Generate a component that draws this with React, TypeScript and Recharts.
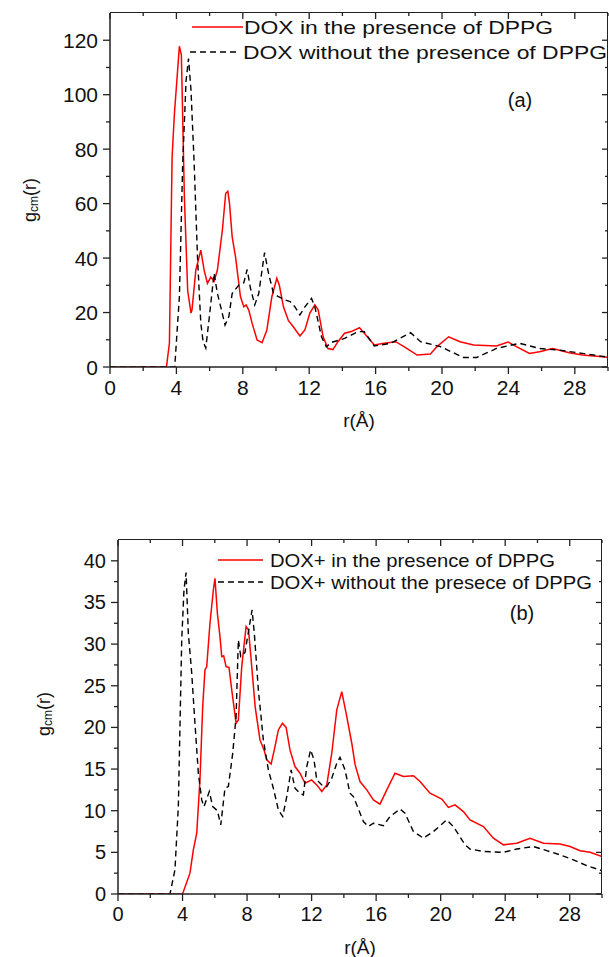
import React from "react"
import { Legend, Line, LineChart, XAxis, YAxis } from "recharts"

// panel (a): DOX
const aRedR = [0, 3.4, 3.58, 3.74, 3.88, 4.18, 4.3, 4.48, 4.68, 4.88, 4.94, 5.17, 5.47, 5.67, 5.87, 6.07, 6.27, 6.47, 6.77, 6.97, 7.1, 7.2, 7.36, 7.56, 7.86, 8.06, 8.2, 8.36, 8.56, 8.86, 9.16, 9.45, 9.75, 10.05, 10.2, 10.45, 10.75, 11.04, 11.44, 11.74, 12.04, 12.34, 12.54, 12.84, 13.13, 13.43, 13.73, 14.13, 14.53, 15.03, 15.32, 15.92, 16.52, 17.21, 17.71, 18.5, 19.3, 19.7, 20.4, 21.09, 21.9, 23.28, 23.98, 24.48, 25.27, 25.87, 26.67, 27.66, 28.46, 30]
const aRedG = [0, 0, 8.8, 77, 93, 117.8, 114.5, 62.5, 28, 19.8, 21, 35.6, 42.9, 35.6, 30.7, 33, 31.5, 35.6, 50.3, 63.8, 64.5, 60, 47.8, 40.5, 25.8, 22.1, 22.8, 20.9, 16.1, 9.9, 8.9, 13.6, 25.8, 32.6, 30, 22.1, 17, 14.8, 11.4, 13.6, 19.8, 22.8, 21, 11.1, 6.8, 6.4, 9.3, 12.4, 13, 14.4, 12.4, 8.1, 8.7, 9.3, 7.5, 4.4, 4.8, 7.5, 11.1, 9.3, 8.1, 7.7, 9.2, 7.5, 5.0, 5.6, 6.8, 5.2, 4.4, 3.6]
const aBlackR = [0, 3.9, 4.18, 4.38, 4.58, 4.73, 4.88, 5.07, 5.27, 5.47, 5.61, 5.77, 6.01, 6.27, 6.47, 6.67, 6.93, 7.16, 7.36, 7.76, 8.06, 8.26, 8.46, 8.72, 8.96, 9.31, 9.55, 9.85, 10.15, 10.55, 10.85, 11.14, 11.44, 11.74, 12.14, 12.34, 12.74, 13.03, 13.33, 14.13, 14.93, 15.32, 15.92, 16.91, 18.11, 18.71, 19.9, 21.29, 22.09, 23.28, 24.08, 24.68, 25.87, 27.06, 28.46, 30]
const aBlackG = [0, 0, 25.8, 74.8, 105, 113.3, 101.6, 74.8, 40.5, 16.1, 9.3, 7.0, 19.8, 34.4, 27, 22.1, 15.4, 18.5, 27, 30.1, 30.9, 35.8, 29, 22.8, 27, 42, 34.4, 27, 25.8, 24.6, 24, 22.1, 19.1, 22.1, 25.2, 22.1, 11.1, 7.4, 9.0, 10.5, 13, 13, 7.7, 8.7, 12.6, 9.3, 7.5, 3.5, 3.5, 6.8, 7.9, 8.7, 6.8, 6.2, 5.0, 3.6]

// panel (b): DOX+
const bRedR = [0, 4.0, 4.46, 4.67, 4.88, 5.08, 5.25, 5.39, 5.5, 5.7, 5.91, 6.01, 6.16, 6.32, 6.43, 6.55, 6.7, 6.88, 7.05, 7.32, 7.46, 7.67, 7.94, 8.09, 8.29, 8.5, 8.8, 9.05, 9.22, 9.49, 9.73, 9.94, 10.19, 10.42, 10.66, 10.97, 11.28, 11.59, 12.0, 12.32, 12.63, 12.94, 13.25, 13.56, 13.87, 14.18, 14.49, 14.7, 15.0, 15.42, 15.83, 16.24, 16.66, 17.17, 17.69, 18.31, 18.72, 19.34, 20.07, 20.48, 20.89, 21.41, 21.82, 22.65, 23.27, 23.89, 24.72, 25.54, 26.37, 27.4, 28.02, 28.64, 29.26, 30]
const bRedG = [0, 0, 2.5, 5.3, 7.3, 13.7, 22.5, 26.9, 27.3, 32.5, 36.5, 37.9, 33.7, 30.9, 28.5, 28.6, 27.3, 27.2, 24.5, 20.5, 20.9, 27.3, 32.1, 31.7, 27.3, 22.5, 18.5, 17.3, 16.1, 15.6, 17.7, 19.7, 20.5, 20.0, 17.3, 15.3, 14.5, 13.3, 13.7, 13.1, 12.3, 13.1, 16.9, 22.1, 24.3, 21.3, 18.1, 15.5, 13.5, 12.5, 11.3, 10.8, 12.5, 14.5, 14.1, 14.2, 13.5, 12.1, 11.4, 10.4, 10.7, 9.9, 8.9, 8.1, 6.7, 5.9, 6.1, 6.7, 6.1, 6.0, 5.7, 5.2, 5.0, 4.5]
const bBlackR = [0, 3.22, 3.53, 3.74, 3.95, 4.09, 4.22, 4.36, 4.57, 4.77, 4.98, 5.19, 5.33, 5.66, 5.87, 6.16, 6.37, 6.63, 6.84, 7.11, 7.32, 7.46, 7.61, 7.87, 8.14, 8.31, 8.45, 8.7, 9.01, 9.32, 9.63, 9.94, 10.21, 10.46, 10.73, 10.97, 11.28, 11.49, 11.7, 11.94, 12.15, 12.32, 12.63, 12.94, 13.25, 13.56, 13.76, 14.07, 14.38, 14.59, 15.21, 15.52, 15.83, 16.45, 16.86, 17.48, 17.79, 18.31, 18.93, 19.55, 20.38, 20.79, 21.51, 21.82, 22.65, 23.89, 24.72, 25.75, 26.58, 27.4, 28.23, 29.06, 30]
const bBlackG = [0, 0, 2.9, 10.5, 30.5, 36.5, 38.6, 31.3, 26.5, 20.5, 14.5, 11.3, 10.5, 12.3, 10.5, 10.0, 8.3, 12.7, 12.9, 16.9, 21.3, 30.5, 28.5, 29.0, 32.1, 34.1, 31.3, 24.5, 18.5, 14.9, 12.7, 10.1, 9.3, 11.7, 14.9, 12.7, 12.1, 11.9, 15.3, 17.3, 16.1, 13.7, 13.1, 12.9, 13.9, 15.7, 16.4, 14.9, 12.1, 11.7, 8.7, 8.1, 8.5, 8.2, 9.3, 10.2, 9.7, 7.5, 6.7, 7.5, 8.9, 8.1, 5.9, 5.4, 5.1, 5.0, 5.4, 5.7, 5.2, 4.7, 4.1, 3.4, 2.8]

const xTicks = [0, 2, 4, 6, 8, 10, 12, 14, 16, 18, 20, 22, 24, 26, 28, 30]
const aYTicks = [0, 10, 20, 30, 40, 50, 60, 70, 80, 90, 100, 110, 120]
const bYTicks = [0, 2.5, 5, 7.5, 10, 12.5, 15, 17.5, 20, 22.5, 25, 27.5, 30, 32.5, 35, 37.5, 40]

const zip = (r: number[], g: number[]) => r.map((v, i) => ({ r: v, g: g[i] }))

const FONT = "'Liberation Sans', Arial, sans-serif"
const AXIS = "#222"
const X_MAX = 30
const Y_AXIS_W = 60
const X_AXIS_H = 30

const bottomTick = (step: number, fs: number) => (p: any) => {
  const v = p.payload.value
  const major = v % step === 0
  return (
    <g>
      <line x1={p.x} y1={p.y} x2={p.x} y2={p.y + (major ? 7 : 4)} stroke={AXIS} strokeWidth={1.3} />
      {major && (
        <text x={p.x} y={p.y + 20} textAnchor="middle" dominantBaseline="central" fontSize={fs} fontFamily={FONT} fill="#111">
          {v}
        </text>
      )}
    </g>
  )
}

const leftTick = (step: number, fs: number) => (p: any) => {
  const v = p.payload.value
  const major = v % step === 0
  return (
    <g>
      <line x1={p.x} y1={p.y} x2={p.x - (major ? 7 : 4)} y2={p.y} stroke={AXIS} strokeWidth={1.3} />
      {major && (
        <text x={p.x - 12} y={p.y} textAnchor="end" dominantBaseline="central" fontSize={fs} fontFamily={FONT} fill="#111">
          {v}
        </text>
      )}
    </g>
  )
}

const YTitle = ({ cx, cy }: any) => (
  <text x={cx} y={cy} transform={`rotate(-90 ${cx} ${cy})`} textAnchor="middle" dominantBaseline="central" fontSize={18} fontFamily={FONT} fill="#111">
    g<tspan fontSize={12} dy={4}>cm</tspan>
    <tspan fontSize={18} dy={-4}>(r)</tspan>
  </text>
)

const XTitle = ({ viewBox, dy }: any) => (
  <text x={viewBox.x + viewBox.width / 2} y={viewBox.y + dy} textAnchor="middle" dominantBaseline="central" fontSize={19} fontFamily={FONT} fill="#111">
    r(Å)
  </text>
)

type Row = { y: number; x1: number; x2: number; tx: number; len: number }

const legendBox = (rows: Row[], tag: string, tagX: number, tagY: number, fs: number) => (props: any) => {
  const items = props.payload || []
  return (
    <svg width={609} height={130} style={{ overflow: "visible" }}>
      {items.map((item: any, i: number) => {
        const row = rows[i]
        return (
          <g key={item.value}>
            <line x1={row.x1} y1={row.y} x2={row.x2} y2={row.y} stroke={item.color} strokeWidth={1.5} strokeDasharray={item.payload?.strokeDasharray} />
            <text x={row.tx} y={row.y} dominantBaseline="central" fontSize={fs} fontFamily={FONT} fill="#111" textLength={row.len} lengthAdjust="spacingAndGlyphs">
              {item.value}
            </text>
          </g>
        )
      })}
      <text x={tagX} y={tagY} textAnchor="middle" dominantBaseline="central" fontSize={20} fontFamily={FONT} fill="#111">
        {tag}
      </text>
    </svg>
  )
}

// top and right frame with inward ticks, laid over the plot box
function Frame(props: { left: number; top: number; w: number; h: number; yMax: number; yTicks: number[]; yStep: number }) {
  const { left, top, w, h, yMax, yTicks, yStep } = props
  return (
    <>
      <div
        style={{
          position: "absolute",
          left: left,
          top: top - 1,
          width: w,
          height: h,
          borderTop: `1.5px solid ${AXIS}`,
          borderRight: `1.5px solid ${AXIS}`,
          boxSizing: "border-box",
          pointerEvents: "none",
          zIndex: 5,
        }}
      />
      <svg width={609} height={h + top + 10} style={{ position: "absolute", left: 0, top: 0, pointerEvents: "none", overflow: "visible", zIndex: 6 }}>
        {xTicks.map((t) => {
          const x = left + (t / X_MAX) * w
          return <line key={"t" + t} x1={x} y1={top} x2={x} y2={top + (t % 4 === 0 ? 6 : 3)} stroke={AXIS} strokeWidth={1.3} />
        })}
        {yTicks.map((t) => {
          const y = top + h - (t / yMax) * h
          return <line key={"r" + t} x1={left + w} y1={y} x2={left + w - (t % yStep === 0 ? 6 : 3)} y2={y} stroke={AXIS} strokeWidth={1.3} />
        })}
      </svg>
    </>
  )
}

function Panel(props: {
  width: number
  height: number
  margin: any
  yMax: number
  yTicks: number[]
  yStep: number
  red: any[]
  black: any[]
  redName: string
  blackName: string
  fs: number
  yTitle: { cx: number; cy: number }
  legend: (p: any) => React.ReactNode
}) {
  const p = props
  const plotW = p.width - p.margin.left - p.margin.right - Y_AXIS_W
  const plotH = p.height - p.margin.top - p.margin.bottom - X_AXIS_H
  return (
    <div style={{ position: "relative", width: p.width, height: p.height }}>
      <LineChart width={p.width} height={p.height} margin={p.margin}>
        <XAxis
          dataKey="r"
          type="number"
          domain={[0, X_MAX]}
          ticks={xTicks}
          interval={0}
          allowDataOverflow
          height={X_AXIS_H}
          tickSize={0}
          tickMargin={0}
          tickLine={false}
          tick={bottomTick(4, p.fs)}
          axisLine={{ stroke: AXIS, strokeWidth: 1.5 }}
          label={<XTitle dy={53} />}
        />
        <YAxis
          type="number"
          domain={[0, p.yMax]}
          ticks={p.yTicks}
          interval={0}
          allowDataOverflow
          width={Y_AXIS_W}
          tickSize={0}
          tickMargin={0}
          tickLine={false}
          tick={leftTick(p.yStep, p.fs)}
          axisLine={{ stroke: AXIS, strokeWidth: 1.5 }}
          label={<YTitle cx={p.yTitle.cx} cy={p.yTitle.cy} />}
        />
        <Legend
          layout="vertical"
          align="center"
          verticalAlign="middle"
          content={p.legend}
          wrapperStyle={{ left: 0, top: 0, width: 609, height: 130, pointerEvents: "none" }}
        />
        <Line data={p.red} dataKey="g" name={p.redName} type="linear" stroke="#ff0000" strokeWidth={1.5} dot={false} isAnimationActive={false} />
        <Line data={p.black} dataKey="g" name={p.blackName} type="linear" stroke="#000000" strokeWidth={1.4} strokeDasharray="6 4" dot={false} isAnimationActive={false} />
      </LineChart>
      <Frame left={p.margin.left + Y_AXIS_W} top={p.margin.top} w={plotW} h={plotH} yMax={p.yMax} yTicks={p.yTicks} yStep={p.yStep} />
    </div>
  )
}

export default function App() {
  return (
    <div style={{ position: "absolute", left: 0, top: 0, width: 609, height: 957, overflow: "hidden", background: "#fff" }}>
      <div style={{ position: "absolute", left: 0, top: 0 }}>
        <Panel
          width={609}
          height={440}
          margin={{ top: 13, right: 1, bottom: 43, left: 50 }}
          yMax={130}
          yTicks={aYTicks}
          yStep={20}
          red={zip(aRedR, aRedG)}
          black={zip(aBlackR, aBlackG)}
          redName="DOX in the presence of DPPG"
          blackName="DOX without the presence of DPPG"
          fs={21}
          yTitle={{ cx: 30, cy: 200 }}
          legend={legendBox(
            [
              { y: 27, x1: 192, x2: 243, tx: 244, len: 309 },
              { y: 52, x1: 190, x2: 240, tx: 243, len: 364 },
            ],
            "(a)",
            520,
            100,
            19
          )}
        />
      </div>
      <div style={{ position: "absolute", left: 0, top: 500 }}>
        <Panel
          width={609}
          height={457}
          margin={{ top: 40, right: 7, bottom: 33, left: 58 }}
          yMax={42.5}
          yTicks={bYTicks}
          yStep={5}
          red={zip(bRedR, bRedG)}
          black={zip(bBlackR, bBlackG)}
          redName="DOX+ in the presence of DPPG"
          blackName="DOX+ without the presece of DPPG"
          fs={20}
          yTitle={{ cx: 44, cy: 214 }}
          legend={legendBox(
            [
              { y: 60, x1: 218, x2: 263, tx: 270, len: 285 },
              { y: 82, x1: 218, x2: 263, tx: 270, len: 322 },
            ],
            "(b)",
            522,
            113,
            19
          )}
        />
      </div>
    </div>
  )
}
